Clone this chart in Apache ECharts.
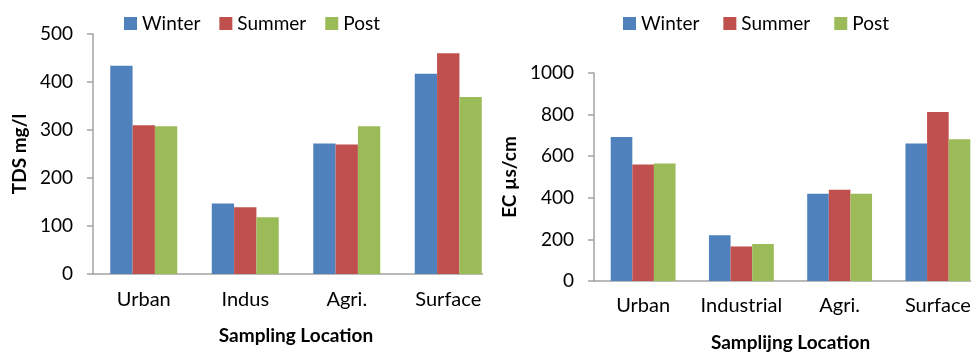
<!DOCTYPE html>
<html>
<head>
<meta charset="utf-8">
<title>TDS and EC by sampling location</title>
<script src="https://cdn.jsdelivr.net/npm/echarts@6/dist/echarts.min.js"></script>
<style>
  html, body { margin: 0; padding: 0; background: #fff; overflow: hidden; }
  .panel { position: absolute; top: 0; height: 357px; overflow: hidden; }
  #leftPanel { left: 0; width: 483px; }
  #rightPanel { left: 490px; width: 481px; }
  .chart { position: absolute; left: 0; top: 0; height: 357px; }
</style>
</head>
<body>
<div id="leftPanel" class="panel"><div id="tdsChart" class="chart" style="width:520px"></div></div>
<div id="rightPanel" class="panel"><div id="ecChart" class="chart" style="width:530px"></div></div>
<script>
// Seasons shown in both panels
const seasons = ['Winter', 'Summer', 'Post'];
const seasonColors = ['#4f81bd', '#c0504d', '#9bbb59'];

// Total dissolved solids (mg/l)
const tdsCategories = ['Urban', 'Indus', 'Agri.', 'Surface'];
const tdsWinter = [434, 147, 272, 417];
const tdsSummer = [310, 139, 270, 460];
const tdsPost = [308, 118, 308, 369];
const tdsTicks = { min: 0, max: 500, interval: 100 };

// Electrical conductivity (µs/cm)
const ecCategories = ['Urban', 'Industrial', 'Agri.', 'Surface'];
const ecWinter = [692, 220, 420, 661];
const ecSummer = [560, 166, 439, 813];
const ecPost = [565, 178, 420, 681];
const ecTicks = { min: 0, max: 1000, interval: 200 };

const FONT = 'Lato, "Open Sans", sans-serif';
const AXIS_GRAY = '#a3a3a3';

function buildOption(cfg) {
  const values = [cfg.winter, cfg.summer, cfg.post];
  return {
    animation: false,
    textStyle: { fontFamily: FONT, color: '#000' },
    legend: {
      left: cfg.legendLeft,
      top: 9,
      itemWidth: 13,
      itemHeight: 13,
      itemGap: cfg.legendGap,
      icon: 'rect',
      textStyle: { fontFamily: FONT, fontSize: 19, color: '#000' },
      data: seasons
    },
    grid: cfg.grid,
    xAxis: {
      type: 'category',
      data: cfg.categories,
      name: cfg.xName,
      nameLocation: 'middle',
      nameGap: cfg.xNameGap,
      nameTextStyle: { fontFamily: FONT, fontSize: 19, fontWeight: 'bold', color: '#000' },
      axisLine: { lineStyle: { color: AXIS_GRAY, width: 1.5 } },
      axisTick: { show: false },
      axisLabel: {
        interval: 0, hideOverlap: false,
        fontFamily: FONT, fontSize: 20, color: '#000', margin: cfg.catMargin
      }
    },
    yAxis: {
      type: 'value',
      min: cfg.ticks.min,
      max: cfg.ticks.max,
      interval: cfg.ticks.interval,
      name: cfg.yName,
      nameLocation: 'middle',
      nameRotate: 90,
      nameGap: cfg.yNameGap,
      nameTextStyle: { fontFamily: FONT, fontSize: 19, fontWeight: 'bold', color: '#000' },
      axisLine: { show: true, lineStyle: { color: AXIS_GRAY, width: 1.5 } },
      axisTick: { show: true, length: 6, lineStyle: { color: AXIS_GRAY, width: 1.5 } },
      splitLine: { show: false },
      axisLabel: {
        fontFamily: FONT, fontSize: 19, color: '#000', margin: 20,
        formatter: (v) => String(v)
      }
    },
    series: seasons.map((s, i) => ({
      name: s,
      type: 'bar',
      data: values[i],
      barGap: '0%',
      barCategoryGap: '34%',
      itemStyle: { color: seasonColors[i] }
    }))
  };
}

const tdsChart = echarts.init(document.getElementById('tdsChart'));
tdsChart.setOption(buildOption({
  categories: tdsCategories,
  winter: tdsWinter, summer: tdsSummer, post: tdsPost,
  ticks: tdsTicks,
  grid: { left: 93, top: 34, width: 406, height: 240 },
  legendLeft: 119, legendGap: 19,
  xName: 'Sampling Location', xNameGap: 52, catMargin: 16,
  yName: 'TDS mg/l', yNameGap: 62
}));

const ecChart = echarts.init(document.getElementById('ecChart'));
ecChart.setOption(buildOption({
  categories: ecCategories,
  winter: ecWinter, summer: ecSummer, post: ecPost,
  ticks: ecTicks,
  grid: { left: 104, top: 73, width: 393, height: 211 },
  legendLeft: 128, legendGap: 24,
  xName: 'Samplijng Location', xNameGap: 52, catMargin: 15,
  yName: 'EC µs/cm', yNameGap: 68
}));
</script>
</body>
</html>
